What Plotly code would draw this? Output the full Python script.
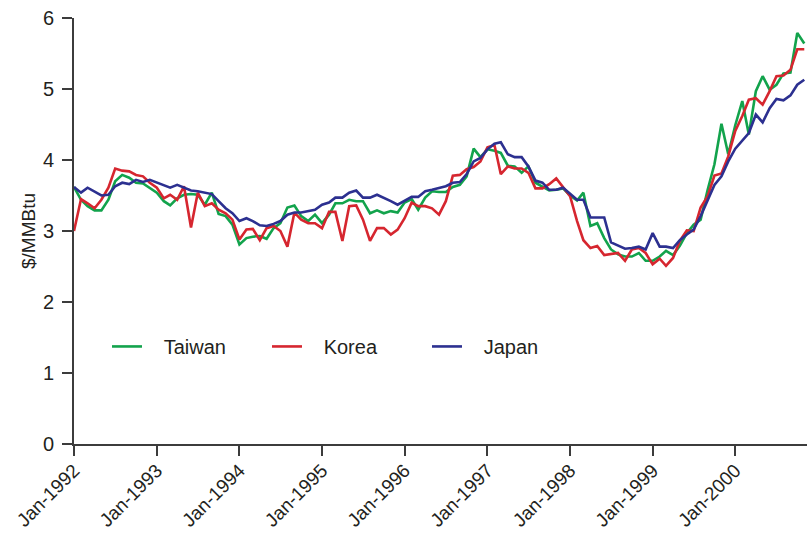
import pandas as pd
import plotly.graph_objects as go

# Monthly LNG import prices, Jan 1992 - Nov 2000 ($/MMBtu)
months = pd.date_range("1992-01-01", periods=107, freq="MS")

taiwan = [
    3.62, 3.44, 3.35, 3.29, 3.29, 3.44, 3.70, 3.79, 3.75, 3.68, 3.67, 3.61,
    3.54, 3.42, 3.36, 3.46, 3.51, 3.52, 3.51, 3.37, 3.54, 3.24, 3.21, 3.09,
    2.81, 2.90, 2.92, 2.93, 2.89, 3.04, 3.11, 3.33, 3.36, 3.21, 3.14, 3.23,
    3.11, 3.23, 3.39, 3.39, 3.44, 3.42, 3.42, 3.25, 3.29, 3.25, 3.28, 3.26,
    3.40, 3.45, 3.30, 3.47, 3.56, 3.55, 3.55, 3.62, 3.65, 3.77, 4.16, 4.04,
    4.15, 4.13, 4.10, 3.92, 3.91, 3.82, 3.91, 3.68, 3.63, 3.57, 3.58, 3.60,
    3.50, 3.43, 3.54, 3.07, 3.11, 2.90, 2.74, 2.67, 2.64, 2.64, 2.69, 2.58,
    2.58, 2.64, 2.72, 2.66, 2.79, 2.97, 3.09, 3.16, 3.58, 3.94, 4.51, 4.08,
    4.49, 4.83, 4.36, 4.97, 5.18, 4.99, 5.06, 5.22, 5.23, 5.79, 5.64,
]

korea = [
    3.00, 3.45, 3.39, 3.32, 3.44, 3.61, 3.88, 3.85, 3.84, 3.79, 3.77, 3.68,
    3.61, 3.46, 3.51, 3.44, 3.63, 3.05, 3.54, 3.35, 3.39, 3.30, 3.25, 3.16,
    2.88, 3.02, 3.03, 2.87, 3.04, 3.07, 3.00, 2.78, 3.26, 3.16, 3.11, 3.11,
    3.04, 3.27, 3.27, 2.86, 3.35, 3.36, 3.16, 2.86, 3.04, 3.04, 2.95, 3.02,
    3.18, 3.40, 3.35, 3.35, 3.32, 3.23, 3.42, 3.78, 3.79, 3.87, 3.90, 3.98,
    4.18, 4.21, 3.80, 3.91, 3.88, 3.88, 3.82, 3.60, 3.60, 3.66, 3.74, 3.61,
    3.49, 3.14, 2.87, 2.76, 2.79, 2.66, 2.67, 2.69, 2.58, 2.74, 2.76, 2.69,
    2.53, 2.61, 2.51, 2.62, 2.86, 3.01, 3.00, 3.33, 3.49, 3.78, 3.81, 4.05,
    4.41, 4.62, 4.85, 4.87, 4.78, 4.97, 5.18, 5.19, 5.27, 5.56, 5.56,
]

japan = [
    3.62, 3.54, 3.61, 3.56, 3.50, 3.51, 3.63, 3.68, 3.66, 3.72, 3.69, 3.72,
    3.68, 3.65, 3.61, 3.65, 3.61, 3.57, 3.56, 3.54, 3.52, 3.42, 3.32, 3.25,
    3.14, 3.18, 3.14, 3.08, 3.07, 3.10, 3.14, 3.23, 3.26, 3.26, 3.28, 3.30,
    3.37, 3.40, 3.47, 3.47, 3.54, 3.57, 3.47, 3.47, 3.51, 3.47, 3.42, 3.37,
    3.43, 3.48, 3.48, 3.56, 3.58, 3.61, 3.63, 3.68, 3.69, 3.80, 3.98, 4.03,
    4.15, 4.23, 4.25, 4.08, 4.04, 4.04, 3.91, 3.71, 3.68, 3.58, 3.58, 3.61,
    3.52, 3.44, 3.44, 3.19, 3.19, 3.19, 2.84, 2.80, 2.75, 2.76, 2.78, 2.74,
    2.97, 2.78, 2.78, 2.76, 2.87, 2.95, 3.02, 3.21, 3.44, 3.65, 3.77, 3.98,
    4.16, 4.28, 4.38, 4.64, 4.53, 4.73, 4.86, 4.84, 4.91, 5.06, 5.13,
]

series = [
    ("Taiwan", taiwan, "#12a34c"),
    ("Korea", korea, "#d6262f"),
    ("Japan", japan, "#2c3090"),
]

axis_color = "#3c3c3c"
font_family = "Liberation Sans, Arial, sans-serif"
pad = "\u00a0" * 3  # extra gap between legend swatch and label

fig = go.Figure()
for name, values, color in series:
    fig.add_trace(go.Scatter(
        x=months, y=values, name=pad + name, mode="lines",
        line=dict(color=color, width=2.6),
    ))

fig.update_layout(
    width=807, height=533,
    margin=dict(l=74, r=0, t=18, b=89),
    paper_bgcolor="white", plot_bgcolor="white",
    font=dict(family=font_family, size=20, color="#231f20"),
    showlegend=True,
    legend=dict(
        orientation="h", x=0.045, xanchor="left", y=0.229, yanchor="middle",
        itemwidth=30, entrywidth=115, bgcolor="rgba(0,0,0,0)",
        font=dict(size=20),
    ),
    xaxis=dict(
        type="date", range=["1992-01-01", "2000-11-13"],
        tick0="1992-01-01", dtick="M12", tickformat="%b-%Y",
        tickangle=-45, ticks="outside", ticklen=10, tickwidth=1.5,
        tickcolor=axis_color, showline=True, linecolor=axis_color,
        linewidth=1.8, showgrid=False, zeroline=False,
        tickfont=dict(size=19), automargin=False, ticklabelstandoff=-4,
    ),
    yaxis=dict(
        range=[0, 6], dtick=1, ticks="outside", ticklen=10, tickwidth=1.5,
        tickcolor=axis_color, showline=True, linecolor=axis_color,
        linewidth=1.8, showgrid=False, zeroline=False,
        tickfont=dict(size=20), ticklabelstandoff=4, automargin=False,
        title=dict(text="$/MMBtu", font=dict(size=19), standoff=2),
    ),
)

fig.write_html("out.html")
